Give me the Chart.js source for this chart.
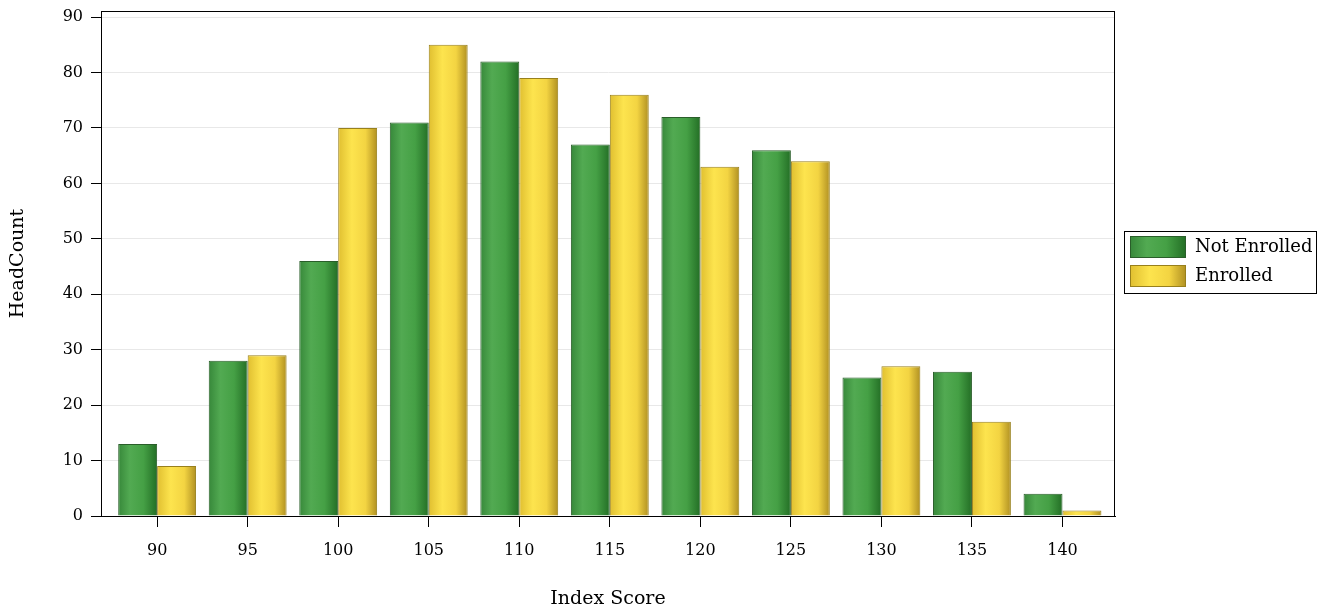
<!DOCTYPE html>
<html>
<head>
<meta charset="utf-8">
<script src="https://cdn.jsdelivr.net/npm/chart.js@4.4.1/dist/chart.umd.min.js"></script>
<style>
html,body{margin:0;padding:0;background:#fff;}
#wrap{width:1317px;height:610px;position:relative;}
</style>
</head>
<body>
<div id="wrap"><canvas id="c" width="1317" height="610"></canvas></div>
<script>
const categories = [90, 95, 100, 105, 110, 115, 120, 125, 130, 135, 140];
const notEnrolled = [13, 28, 46, 71, 82, 67, 72, 66, 25, 26, 4];
const enrolled = [9, 29, 70, 85, 79, 76, 63, 64, 27, 17, 1];
const yTicks = [0, 10, 20, 30, 40, 50, 60, 70, 80, 90];
const seriesNames = ['Not Enrolled', 'Enrolled'];

const FONT = '"DejaVu Serif", "Liberation Serif", serif';
const CAT_PCT = 0.86;

const greenStops = [[0, '#37883a'], [0.3, '#52aa52'], [0.65, '#45a045'], [1, '#236e25']];
const yellowStops = [[0, '#e0bf30'], [0.35, '#fde44e'], [0.7, '#f3d442'], [1, '#b09022']];
const borders = ['#2a5e2a', '#98801c'];
const stopsBy = [greenStops, yellowStops];

function barGradient(dsIndex) {
  return function (ctx) {
    const chart = ctx.chart;
    const stops = stopsBy[dsIndex];
    const xs = chart.scales && chart.scales.x;
    if (ctx.type !== 'data' || !xs || !chart.chartArea) return stops[1][1];
    const c = xs.getPixelForValue(categories[ctx.dataIndex]);
    const spacing = Math.abs(xs.getPixelForValue(categories[1]) - xs.getPixelForValue(categories[0]));
    const bw = spacing * CAT_PCT / 2;
    const left = c - bw + dsIndex * bw;
    const g = chart.ctx.createLinearGradient(left, 0, left + bw, 0);
    stops.forEach(s => g.addColorStop(s[0], s[1]));
    return g;
  };
}

function swatch(dsIndex) {
  const cv = document.createElement('canvas');
  cv.width = 60; cv.height = 22;
  const c = cv.getContext('2d');
  const g = c.createLinearGradient(4, 0, 60, 0);
  stopsBy[dsIndex].forEach(s => g.addColorStop(s[0], s[1]));
  c.fillStyle = g;
  c.fillRect(4, 0, 56, 22);
  c.strokeStyle = borders[dsIndex];
  c.lineWidth = 1;
  c.strokeRect(4.5, 0.5, 55, 21);
  return cv;
}
const swatches = [swatch(0), swatch(1)];

const frame = {
  id: 'frame',
  afterInit(chart) {
    const lg = chart.legend;
    if (lg) {
      const orig = lg.fit.bind(lg);
      lg.fit = function () { orig(); this.width = 202; };
    }
  },
  afterLayout(chart) {
    const lg = chart.legend;
    if (lg) { lg.top -= 2; lg.bottom -= 2; }
  },
  afterDraw(chart) {
    const {ctx, chartArea: a} = chart;
    ctx.save();
    ctx.strokeStyle = '#000';
    ctx.lineWidth = 1;
    ctx.strokeRect(Math.round(a.left) + 0.5, Math.round(a.top) + 0.5, Math.round(a.right - a.left) - 1, Math.round(a.bottom - a.top));
    const lg = chart.legend;
    if (lg && lg.legendHitBoxes && lg.legendHitBoxes.length) {
      const hb = lg.legendHitBoxes;
      const half = 9;
      const top = hb[0].top + half - 11 - 5;
      const bot = hb[hb.length - 1].top + half + 11 + 6;
      ctx.strokeRect(1124.5, Math.round(top) + 0.5, 1316 - 1124, Math.round(bot - top));
    }
    ctx.restore();
  }
};

const datasets = [notEnrolled, enrolled].map((arr, i) => ({
  label: seriesNames[i],
  data: arr.map((v, k) => ({x: categories[k], y: v})),
  backgroundColor: barGradient(i),
  borderColor: borders[i],
  borderWidth: 1,
  borderSkipped: 'bottom',
  categoryPercentage: CAT_PCT,
  barPercentage: 1
}));

new Chart(document.getElementById('c'), {
  type: 'bar',
  data: {datasets},
  plugins: [frame],
  options: {
    responsive: false,
    animation: false,
    layout: {padding: {top: 11, right: 0, left: 0, bottom: 0}},
    plugins: {
      tooltip: {enabled: false},
      legend: {
        position: 'right',
        fullSize: false,
        labels: {
          usePointStyle: true,
          pointStyleWidth: 60,
          padding: 11,
          color: '#000',
          font: {family: FONT, size: 18},
          generateLabels: () => seriesNames.map((n, i) => ({
            text: n, pointStyle: swatches[i], fillStyle: 'transparent',
            strokeStyle: 'transparent', lineWidth: 0, datasetIndex: i, hidden: false, fontColor: '#000'
          }))
        }
      }
    },
    scales: {
      x: {
        type: 'linear',
        min: 86.9,
        max: 142.9,
        offset: false,
        afterBuildTicks: s => { s.ticks = categories.map(v => ({value: v})); },
        afterFit: s => { s.height = 94; s.paddingLeft = 0; s.paddingRight = 0; },
        grid: {offset: false, drawOnChartArea: false, tickLength: 11, tickColor: '#000', color: '#000'},
        border: {display: true, color: '#000', width: 1},
        ticks: {color: '#000', font: {family: FONT, size: 16}, padding: 14, maxRotation: 0, autoSkip: false},
        title: {display: true, text: 'Index Score', color: '#000', font: {family: FONT, size: 19}, padding: {top: 3, bottom: 0}}
      },
      y: {
        min: 0,
        max: 91.1,
        afterBuildTicks: s => { s.ticks = yTicks.map(v => ({value: v})); },
        afterFit: s => { s.width = 101; s.paddingTop = 0; s.paddingBottom = 0; },
        grid: {color: ctx => (ctx.tick && ctx.tick.value === 0) ? 'transparent' : '#e8e8e8', tickLength: 10, tickColor: '#000', drawTicks: true},
        border: {display: true, color: '#000', width: 1},
        ticks: {color: '#000', font: {family: FONT, size: 16}, padding: 8},
        title: {display: true, text: 'HeadCount', color: '#000', font: {family: FONT, size: 19}, padding: {top: 7, bottom: 0}}
      }
    }
  }
});
</script>
</body>
</html>
